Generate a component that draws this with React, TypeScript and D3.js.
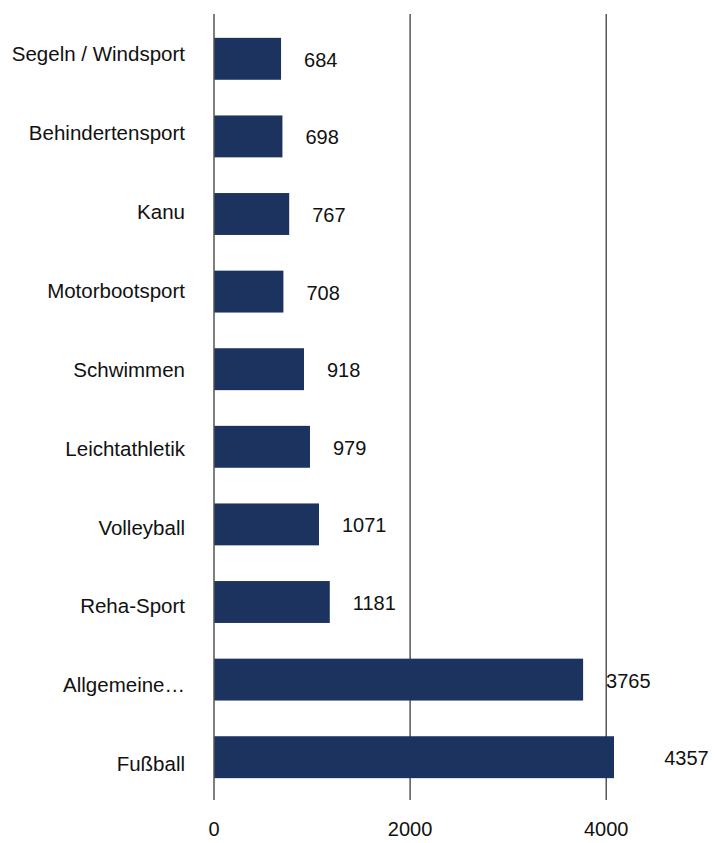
import React from "react";
import * as d3 from "d3";

const categories = [
  "Segeln / Windsport",
  "Behindertensport",
  "Kanu",
  "Motorbootsport",
  "Schwimmen",
  "Leichtathletik",
  "Volleyball",
  "Reha-Sport",
  "Allgemeine…",
  "Fußball",
];
const values = [684, 698, 767, 708, 918, 979, 1071, 1181, 3765, 4357];
const ticks = [0, 2000, 4000];

const W = 715;
const H = 843;
const left = 214;
const plotRight = 614;
const domainMax = 4080;
const top = 20;
const bottom = 796;

export default function App() {
  const x = d3.scaleLinear().domain([0, domainMax]).range([left, plotRight]);
  const y = d3
    .scaleBand<string>()
    .domain(categories)
    .range([top, bottom])
    .paddingInner(0.46)
    .paddingOuter(0.23);
  const yLabel = d3.scalePoint<string>().domain(categories).range([54, 764]);
  const font = "'Liberation Sans', Arial, Helvetica, sans-serif";
  return (
    <svg
      width={W}
      height={H}
      style={{ position: "absolute", left: 0, top: 0 }}
      fontFamily={font}
    >
      <defs>
        <clipPath id="plotclip">
          <rect x={left} y={0} width={plotRight - left} height={H} />
        </clipPath>
      </defs>
      {ticks.slice(1).map((t) => (
        <line
          key={t}
          x1={x(t)}
          x2={x(t)}
          y1={14}
          y2={800}
          stroke="#000"
          strokeWidth={1}
        />
      ))}
      <g clipPath="url(#plotclip)">
        {categories.map((c, i) => (
          <rect
            key={c}
            x={x(0)}
            y={y(c)}
            width={x(values[i]) - x(0)}
            height={y.bandwidth()}
            fill="#1b335e"
          />
        ))}
      </g>
      <line x1={x(0)} x2={x(0)} y1={14} y2={800} stroke="#555" strokeWidth={1.5} />
      {categories.map((c) => (
        <text
          key={"l" + c}
          x={185}
          y={yLabel(c)}
          dy="0.35em"
          textAnchor="end"
          fontSize={20.5}
          fill="#111"
        >
          {c}
        </text>
      ))}
      {categories.map((c, i) => (
        <text
          key={"v" + c}
          x={x(values[i]) + 23}
          y={(y(c) ?? 0) + y.bandwidth() / 2 + 1}
          dy="0.35em"
          textAnchor="start"
          fontSize={20}
          fill="#111"
        >
          {values[i]}
        </text>
      ))}
      {ticks.map((t) => (
        <text
          key={"t" + t}
          x={x(t)}
          y={829}
          dy="0.35em"
          textAnchor="middle"
          fontSize={20}
          fill="#111"
        >
          {t}
        </text>
      ))}
    </svg>
  );
}
